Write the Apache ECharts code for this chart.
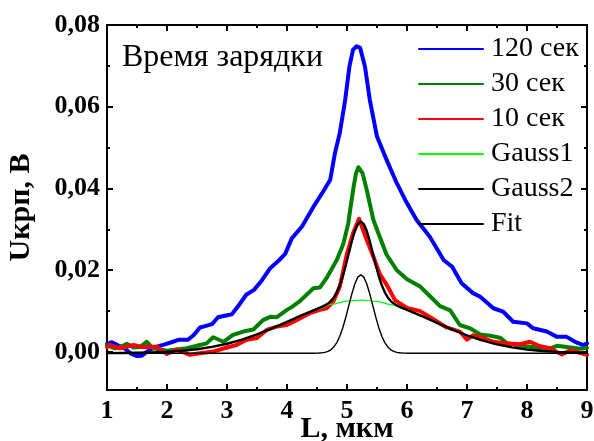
<!DOCTYPE html>
<html>
<head>
<meta charset="utf-8">
<script src="https://cdn.jsdelivr.net/npm/echarts@6/dist/echarts.min.js"></script>
<style>html,body{margin:0;padding:0;background:#fff}#c{width:594px;height:441px}</style>
</head>
<body>
<div id="c"></div>
<script>
// ---- data ----
const legendNames = ['120 сек', '30 сек', '10 сек', 'Gauss1', 'Gauss2', 'Fit'];
const xTicks = [1, 2, 3, 4, 5, 6, 7, 8, 9];
const yTicks = [0, 0.02, 0.04, 0.06, 0.08];
const yMinorTicks = [0.01, 0.03, 0.05, 0.07];

const s120 = [[1.00,0.0020],[1.08,0.0024],[1.2,0.0015],[1.3,0.0008],[1.4,-0.0004],[1.5,-0.0010],[1.58,-0.0009],[1.68,0.0002],[1.8,0.0012],[1.95,0.0018],[2.1,0.0025],[2.2,0.0030],[2.35,0.0030],[2.45,0.0042],[2.55,0.0060],[2.65,0.0064],[2.75,0.0068],[2.85,0.0085],[3.0,0.0090],[3.08,0.0092],[3.2,0.0115],[3.32,0.0140],[3.45,0.0152],[3.58,0.0175],[3.72,0.0205],[3.85,0.0222],[3.97,0.0240],[4.08,0.0278],[4.25,0.0307],[4.44,0.0355],[4.6,0.0392],[4.72,0.0421],[4.80,0.0487],[4.88,0.0536],[4.97,0.0617],[5.04,0.0698],[5.10,0.0739],[5.16,0.0748],[5.22,0.0744],[5.30,0.0698],[5.38,0.0617],[5.50,0.0527],[5.66,0.0470],[5.83,0.0413],[5.97,0.0372],[6.16,0.0323],[6.38,0.0282],[6.61,0.0225],[6.75,0.0209],[6.91,0.0168],[7.10,0.0144],[7.22,0.0135],[7.44,0.0107],[7.60,0.0099],[7.77,0.0074],[8.0,0.0070],[8.1,0.0058],[8.33,0.0050],[8.5,0.0037],[8.66,0.0037],[8.8,0.0025],[8.94,0.0017],[9.0,0.0021]];

const s30 = [[1.0,0.0017],[1.13,0.0009],[1.25,0.0014],[1.33,0.0020],[1.44,0.0011],[1.55,0.0012],[1.66,0.0025],[1.77,0.0009],[2.0,0.0003],[2.16,0.0006],[2.33,0.0009],[2.55,0.0017],[2.66,0.0021],[2.77,0.0036],[2.94,0.0025],[3.1,0.0042],[3.27,0.0050],[3.44,0.0055],[3.6,0.0078],[3.72,0.0086],[3.83,0.0085],[4.0,0.0103],[4.1,0.0112],[4.22,0.0125],[4.44,0.0156],[4.55,0.0158],[4.66,0.0181],[4.83,0.0225],[4.94,0.0265],[5.02,0.0314],[5.06,0.0355],[5.11,0.0404],[5.15,0.0437],[5.19,0.0452],[5.26,0.0437],[5.33,0.0396],[5.44,0.0323],[5.55,0.0280],[5.66,0.0238],[5.83,0.0200],[6.0,0.0178],[6.22,0.0160],[6.38,0.0137],[6.55,0.0112],[6.72,0.0102],[6.88,0.0066],[7.05,0.0058],[7.22,0.0043],[7.38,0.0040],[7.55,0.0035],[7.66,0.0022],[7.9,0.0015],[8.1,0.0012],[8.33,0.0006],[8.5,0.0015],[8.66,0.0012],[8.88,0.0008],[9.0,0.0010]];

const s10 = [[1.0,0.0012],[1.05,0.0017],[1.22,0.0009],[1.44,0.0017],[1.6,0.0012],[1.83,0.0013],[2.0,-0.0005],[2.16,0.0006],[2.38,-0.0007],[2.55,-0.0003],[2.77,0.0001],[3.0,0.0011],[3.16,0.0017],[3.33,0.0030],[3.5,0.0034],[3.66,0.0054],[3.83,0.0062],[4.0,0.0066],[4.16,0.0078],[4.38,0.0095],[4.55,0.0103],[4.66,0.0107],[4.77,0.0123],[4.88,0.0160],[5.0,0.0241],[5.1,0.0290],[5.2,0.0326],[5.33,0.0274],[5.44,0.0233],[5.55,0.0190],[5.66,0.0165],[5.8,0.0127],[6.0,0.0108],[6.22,0.0100],[6.44,0.0080],[6.66,0.0060],[6.88,0.0050],[7.0,0.0030],[7.1,0.0041],[7.25,0.0035],[7.44,0.0025],[7.66,0.0021],[7.88,0.0019],[8.05,0.0025],[8.22,0.0014],[8.38,0.0009],[8.58,-0.0006],[8.72,0.0004],[8.88,-0.0002],[9.0,-0.0007]];

const gauss1 = [[1.0,-0.00027],[1.25,-0.00025],[1.5,-0.0002],[1.75,-0.0001],[2.0,0.00005],[2.25,0.0003],[2.5,0.00068],[2.75,0.00124],[3.0,0.00201],[3.25,0.00303],[3.5,0.0043],[3.75,0.00578],[4.0,0.00739],[4.25,0.00901],[4.5,0.0105],[4.75,0.0117],[5.0,0.01246],[5.25,0.0127],[5.5,0.01238],[5.75,0.01154],[6.0,0.01028],[6.25,0.00876],[6.5,0.00713],[6.75,0.00553],[7.0,0.00408],[7.25,0.00285],[7.5,0.00187],[7.75,0.00113],[8.0,0.00061],[8.25,0.00025],[8.5,0.00002],[8.75,-0.00012],[9.0,-0.00021]];

const gauss2 = [[1.0,-0.0003],[4.43,-0.0003],[4.53,-0.00026],[4.58,-0.0002],[4.63,-0.00009],[4.68,0.00014],[4.73,0.00054],[4.78,0.00123],[4.83,0.0023],[4.88,0.00385],[4.93,0.00593],[4.98,0.00849],[5.03,0.01135],[5.08,0.01419],[5.13,0.01664],[5.18,0.01831],[5.23,0.0189],[5.28,0.01831],[5.33,0.01664],[5.38,0.01419],[5.43,0.01135],[5.48,0.00849],[5.53,0.00593],[5.58,0.00385],[5.63,0.0023],[5.68,0.00123],[5.73,0.00054],[5.78,0.00014],[5.83,-0.00009],[5.88,-0.0002],[5.93,-0.00026],[6.03,-0.0003],[9.0,-0.0003]];

const fit = [[1.0,-0.00027],[1.25,-0.00025],[1.5,-0.0002],[1.75,-0.0001],[2.0,0.00005],[2.25,0.0003],[2.5,0.00068],[2.75,0.00124],[3.0,0.00201],[3.25,0.00303],[3.5,0.0043],[3.75,0.00578],[4.0,0.00739],[4.25,0.00901],[4.48,0.0104],[4.58,0.01102],[4.63,0.01139],[4.68,0.01184],[4.73,0.01246],[4.78,0.01335],[4.83,0.0146],[4.88,0.01631],[4.93,0.01853],[4.98,0.02121],[5.03,0.02417],[5.08,0.02709],[5.13,0.0296],[5.18,0.0313],[5.23,0.0319],[5.28,0.0313],[5.33,0.0296],[5.38,0.02709],[5.43,0.02417],[5.48,0.02121],[5.53,0.01853],[5.58,0.01631],[5.63,0.0146],[5.68,0.01335],[5.73,0.01246],[5.78,0.01184],[5.83,0.01139],[5.88,0.01102],[5.98,0.0104],[6.25,0.00876],[6.5,0.00713],[6.75,0.00553],[7.0,0.00408],[7.25,0.00285],[7.5,0.00187],[7.75,0.00113],[8.0,0.00061],[8.25,0.00025],[8.5,0.00002],[8.75,-0.00012],[9.0,-0.00021]];

// ---- chart ----
const FONT = 'Liberation Serif';
const Y_MIN = -0.0093, Y_MAX = 0.08;
const fmtY = v => v.toFixed(2).replace('.', ',');
const axisLine = { show: true, onZero: false, lineStyle: { color: '#000', width: 2 } };

function xAxisDef(pos, labels) {
  return {
    type: 'value', position: pos, min: xTicks[0], max: xTicks[xTicks.length - 1], interval: 1,
    axisLine: axisLine,
    axisTick: { show: true, inside: true, length: 6, lineStyle: { color: '#000', width: 2 } },
    minorTick: { show: true, splitNumber: 2, length: 3, lineStyle: { color: '#000', width: 2 } },
    splitLine: { show: false }, minorSplitLine: { show: false },
    axisLabel: { show: labels, color: '#000', fontFamily: FONT, fontWeight: 'bold', fontSize: 26, margin: 8 },
    name: labels ? 'L, мкм' : '', nameLocation: 'middle', nameGap: 24, nameMoveOverlap: false,
    nameTextStyle: { color: '#000', fontFamily: FONT, fontWeight: 'bold', fontSize: 30 }
  };
}
function yAxisDef(pos, ticks, len, labels) {
  return {
    type: 'value', position: pos, min: Y_MIN, max: Y_MAX,
    axisLine: axisLine,
    axisTick: { show: true, inside: true, length: len, customValues: ticks, lineStyle: { color: '#000', width: 2 } },
    splitLine: { show: false },
    axisLabel: { show: labels, customValues: ticks, formatter: fmtY, color: '#000', fontFamily: FONT, fontWeight: 'bold', fontSize: 26, margin: 7 },
    name: labels ? 'Uкрп, В' : '', nameLocation: 'middle', nameRotate: 90, nameGap: 71, nameMoveOverlap: false,
    nameTextStyle: { color: '#000', fontFamily: FONT, fontWeight: 'bold', fontSize: 30 }
  };
}

function lineSeries(name, data, color, width, smooth) {
  return {
    name: name, type: 'line', data: data, xAxisIndex: 0, yAxisIndex: 0,
    symbol: 'none', smooth: smooth || false, smoothMonotone: 'x',
    lineStyle: { color: color, width: width, join: 'round', cap: 'round' },
    itemStyle: { color: color },
    emphasis: { disabled: true }, animation: false
  };
}

const chart = echarts.init(document.getElementById('c'), null, { renderer: 'canvas' });
chart.setOption({
  animation: false,
  backgroundColor: '#fff',
  title: {
    text: 'Время зарядки', left: 122, top: 42, padding: 0,
    textStyle: { color: '#000', fontFamily: FONT, fontWeight: 'normal', fontSize: 32, lineHeight: 32 }
  },
  legend: {
    data: legendNames, orient: 'vertical', left: 418, top: 35, padding: 0,
    itemWidth: 64, itemHeight: 14, itemGap: 7,
    itemStyle: { opacity: 0, borderWidth: 0 },
    textStyle: { color: '#000', fontFamily: FONT, fontSize: 28, lineHeight: 28, padding: [0, 0, 0, 3] },
    selectedMode: false
  },
  grid: { left: 107, right: 7, top: 25, bottom: 51, containLabel: false, outerBoundsMode: 'none' },
  xAxis: [xAxisDef('bottom', true), xAxisDef('top', false)],
  yAxis: [
    yAxisDef('left', yTicks, 6, true),
    yAxisDef('right', yTicks, 6, false),
    yAxisDef('left', yMinorTicks, 3, false),
    yAxisDef('right', yMinorTicks, 3, false)
  ],
  series: [
    lineSeries('120 сек', s120, '#0000ff', 4),
    lineSeries('30 сек', s30, '#008000', 4),
    lineSeries('10 сек', s10, '#ff0000', 4),
    lineSeries('Gauss1', gauss1, '#00ff00', 1.2, 0.4),
    lineSeries('Gauss2', gauss2, '#000000', 1.4),
    lineSeries('Fit', fit, '#000000', 2.4)
  ]
});
</script>
</body>
</html>
